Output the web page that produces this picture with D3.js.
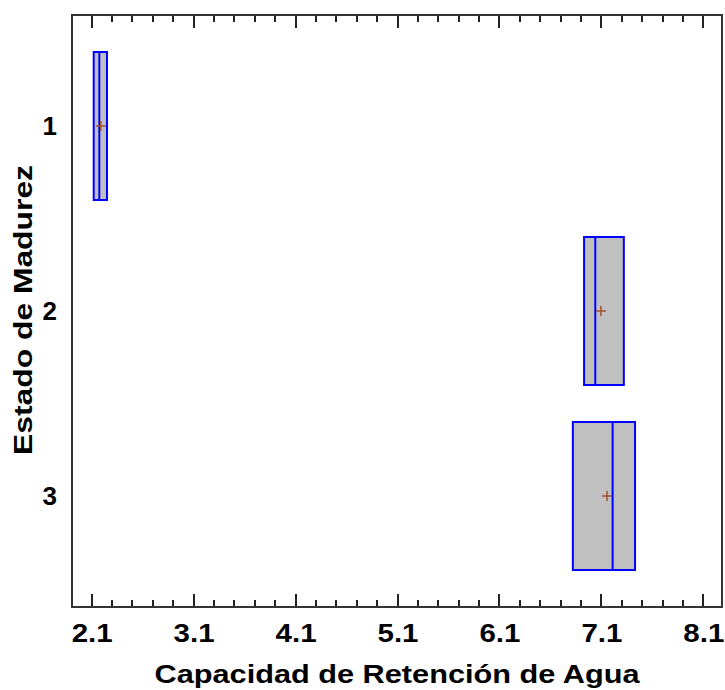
<!DOCTYPE html>
<html>
<head>
<meta charset="utf-8">
<style>
body { margin: 0; background: #fff; }
#chart { width: 725px; height: 690px; }
text { font-family: Arial, "Liberation Sans", sans-serif; font-weight: bold; fill: #000; }
</style>
</head>
<body>
<svg id="chart"></svg>
<script src="https://d3js.org/d3.v7.min.js"></script>
<script>
    // datos
    var estados = [1, 2, 3];
    var q1 = [2.12, 6.93, 6.82];
    var medianas = [2.175, 7.04, 7.21];
    var q3 = [2.25, 7.32, 7.43];
    var medias = [2.19, 7.095, 7.155];
    var xTicks = [2.1, 3.1, 4.1, 5.1, 6.1, 7.1, 8.1];

    const svg = d3.select("#chart");
    const mLeft = 72, mRight = 722, mTop = 15, mBottom = 607;

    const x = d3.scaleLinear().domain([1.907, 8.283]).range([mLeft, mRight]);
    const y = d3.scaleLinear().domain([0.4, 3.6]).range([mTop, mBottom]);

    var minorTicks = d3.range(0, 31).map(i => +(2.1 + i * 0.2).toFixed(1))
        .filter(v => xTicks.indexOf(v) < 0);

    // marcas de los ejes (hacia dentro, arriba y abajo)
    var marcas = xTicks.map(v => ({v: v, len: 13})).concat(minorTicks.map(v => ({v: v, len: 7})));
    var tickG = svg.append("g").attr("class", "marcas");
    tickG.selectAll("rect.abajo")
        .data(marcas)
        .enter()
        .append("rect")
        .attr("class", "abajo")
        .attr("x", d => Math.round(x(d.v)) - 1)
        .attr("y", d => mBottom - d.len)
        .attr("width", 2)
        .attr("height", d => d.len)
        .style("fill", "#222");
    tickG.selectAll("rect.arriba")
        .data(marcas)
        .enter()
        .append("rect")
        .attr("class", "arriba")
        .attr("x", d => Math.round(x(d.v)) - 1)
        .attr("y", mTop)
        .attr("width", 2)
        .attr("height", d => d.len)
        .style("fill", "#222");

    // etiquetas del eje inferior
    svg.append("g")
        .attr("transform", "translate(0," + mBottom + ")")
        .call(d3.axisBottom(x).tickValues(xTicks).tickSize(0).tickFormat(d3.format(".1f")))
        .call(g => g.select(".domain").remove())
        .call(g => g.selectAll(".tick text")
            .attr("font-size", "26px").attr("dy", "0.71em").attr("y", 17)
            .attr("font-family", "Arial, 'Liberation Sans', sans-serif")
            .attr("textLength", 41).attr("lengthAdjust", "spacingAndGlyphs"));

    // eje izquierdo (solo etiquetas)
    svg.append("g")
        .attr("transform", "translate(" + mLeft + ",0)")
        .call(d3.axisLeft(y).tickValues(estados).tickSize(0).tickPadding(15).tickFormat(d3.format("d")))
        .call(g => g.select(".domain").remove())
        .call(g => g.selectAll(".tick text").attr("font-size", "26px")
            .attr("font-family", "Arial, 'Liberation Sans', sans-serif"));

    // marco
    svg.append("rect")
        .attr("x", mLeft).attr("y", mTop)
        .attr("width", mRight - mLeft).attr("height", mBottom - mTop)
        .attr("shape-rendering", "crispEdges")
        .style("fill", "none").style("stroke", "#333").style("stroke-width", 2);

    // cajas
    var datos = estados.map((e, i) => ({estado: e, q1: q1[i], med: medianas[i], q3: q3[i], media: medias[i]}));
    var halfH = 0.4;

    svg.selectAll("rect.caja")
        .data(datos)
        .enter()
        .append("rect")
        .attr("class", "caja")
        .attr("x", d => x(d.q1))
        .attr("y", d => y(d.estado - halfH))
        .attr("width", d => x(d.q3) - x(d.q1))
        .attr("height", d => y(d.estado + halfH) - y(d.estado - halfH))
        .style("fill", "#c0c0c0")
        .style("stroke", "#0000ff")
        .style("stroke-width", 2);

    svg.selectAll("line.mediana")
        .data(datos)
        .enter()
        .append("line")
        .attr("class", "mediana")
        .attr("x1", d => x(d.med)).attr("x2", d => x(d.med))
        .attr("y1", d => y(d.estado - halfH)).attr("y2", d => y(d.estado + halfH))
        .style("stroke", "#0000ff")
        .style("stroke-width", 2);

    // media (+)
    var cruz = svg.selectAll("g.media")
        .data(datos)
        .enter()
        .append("g")
        .attr("class", "media")
        .attr("transform", d => "translate(" + x(d.media) + "," + y(d.estado) + ")");
    cruz.append("line").attr("x1", -5).attr("x2", 5).attr("y1", 0).attr("y2", 0)
        .style("stroke", "#a0522d").style("stroke-width", 1.5);
    cruz.append("line").attr("x1", 0).attr("x2", 0).attr("y1", -5).attr("y2", 5)
        .style("stroke", "#a0522d").style("stroke-width", 1.5);

    // titulos
    svg.append("text")
        .attr("x", 397).attr("y", 683)
        .attr("text-anchor", "middle")
        .attr("font-size", "26px")
        .attr("textLength", 485).attr("lengthAdjust", "spacingAndGlyphs")
        .text("Capacidad de Retención de Agua");

    svg.append("text")
        .attr("transform", "translate(32,310) rotate(-90)")
        .attr("text-anchor", "middle")
        .attr("font-size", "26px")
        .attr("textLength", 290).attr("lengthAdjust", "spacingAndGlyphs")
        .text("Estado de Madurez");
</script>
</body>
</html>
